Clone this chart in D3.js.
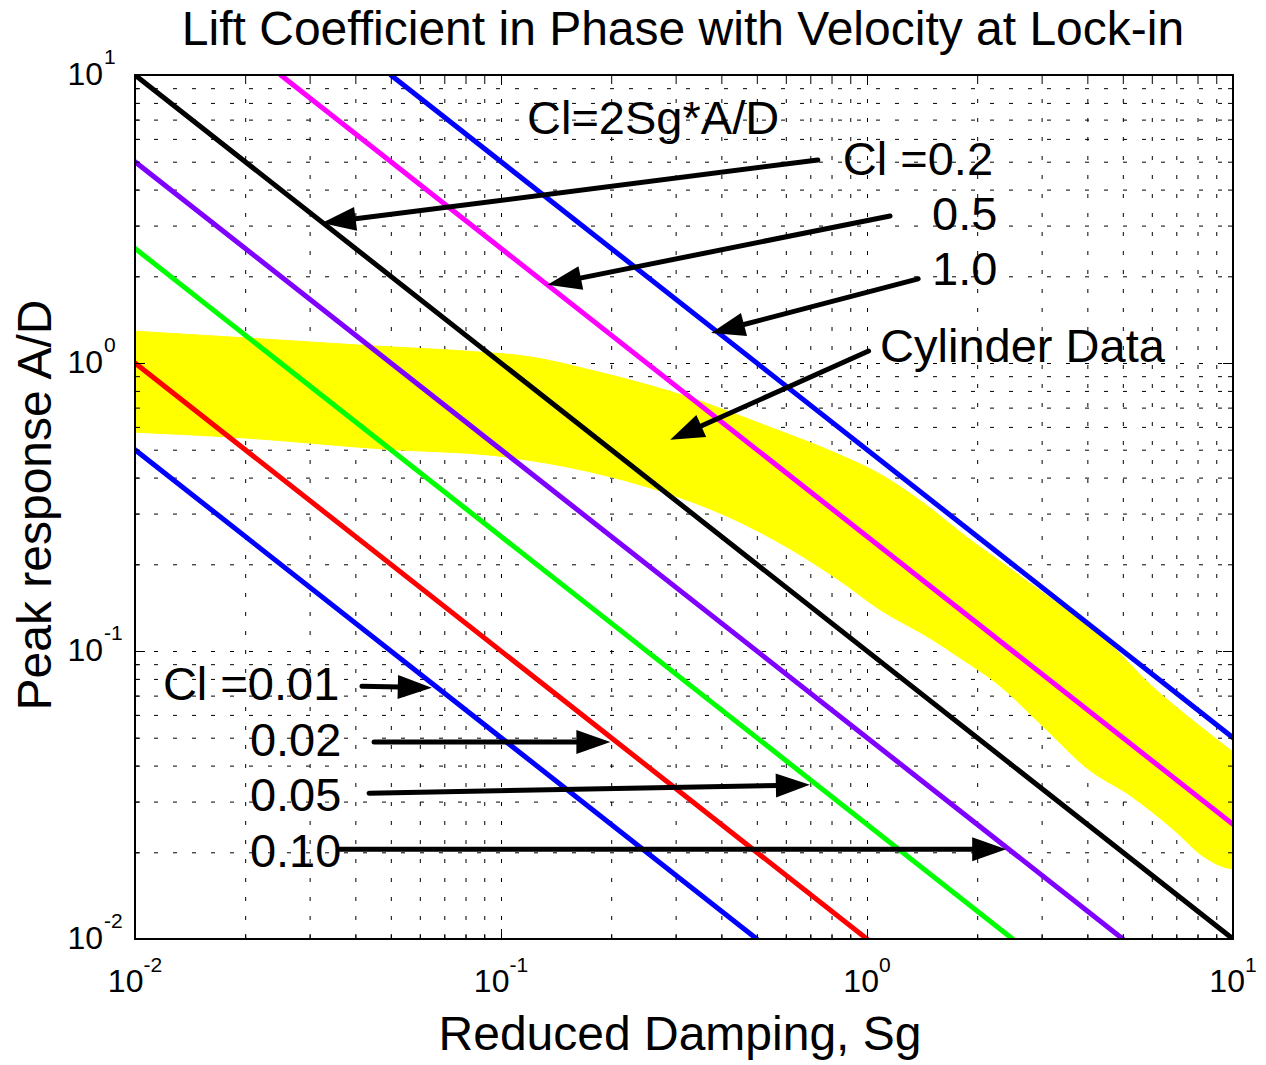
<!DOCTYPE html>
<html><head><meta charset="utf-8">
<script src="https://cdn.jsdelivr.net/npm/d3@7"></script>
<style>
body{margin:0;background:#fff}
svg{display:block}
text{font-family:"Liberation Sans",Arial,Helvetica,sans-serif;fill:#000}
</style>
</head><body>
<svg id="c" width="1266" height="1065"></svg>
<script>
// ---------------- data ----------------
const clLabels   = ["0.01","0.02","0.05","0.10","0.2","0.5","1.0"];
const lineStartSg = [0.01, 0.01, 0.01, 0.01, 0.01, 0.025, 0.05];
const lineStartAD = [0.5,  1,    2.5,  5,    10,   10,    10];
const lineEndSg   = [0.5,  1,    2.5,  5,    10,   10,    10];
const lineEndAD   = [0.01, 0.01, 0.01, 0.01, 0.01, 0.025, 0.05];
const lineColors  = ["#0000ff","#ff0000","#00ff00","#8000ff","#000000","#ff00ff","#0000ff"];

// Cylinder data band (yellow)
const bandUpperSg = [0.01,0.0228,0.0428,0.0887,0.114,0.185,0.316,0.54,0.81,1.09,1.41,1.90,2.41,3.01,4.47,6.0,7.87,10];
const bandUpperAD = [1.29,1.21,1.15,1.09,1.06,0.93,0.77,0.60,0.49,0.41,0.33,0.245,0.197,0.160,0.110,0.0755,0.0566,0.0446];
const bandLowerSg = [0.01,0.0184,0.0485,0.099,0.185,0.262,0.414,0.617,0.834,1.087,1.50,1.81,2.24,3.08,4.02,5.26,6.85,8.28,9.4,10];
const bandLowerAD = [0.575,0.553,0.502,0.475,0.412,0.365,0.294,0.226,0.177,0.139,0.110,0.094,0.078,0.0536,0.0389,0.0314,0.0241,0.0194,0.0178,0.0175];

const xTickExps = [-2,-1,0,1];
const yTickExps = [-2,-1,0,1];

// annotations: text anchor (Sg, A/D) and arrow from -> to, in data units
const noteTexts = ["Cl=2Sg*A/D","Cl =0.2","0.5","1.0","Cylinder Data","Cl =0.01","0.02","0.05","0.10"];
const noteSg    = [0.1178, 0.859, 1.506, 1.506, 1.086, 0.01192, 0.0206, 0.0206, 0.0206];
const noteAD    = [6.24,   4.50,  2.90,  1.87,  1.008, 0.0676,  0.0431, 0.0278, 0.0178];
const arrowFromSg = [0.734, 1.156, 1.38, 1.01, 0.0417, 0.045, 0.0436, 0.0363];
const arrowFromAD = [5.07,  3.24,  1.96, 1.10, 0.0755, 0.0483, 0.0321, 0.0205];
const arrowToSg   = [0.0324,0.134, 0.375,0.290,0.0647, 0.199, 0.698, 2.40];
const arrowToAD   = [3.06,  1.87,  1.27, 0.541,0.0745, 0.0483, 0.0343, 0.0205];

// ---------------- layout ----------------
const L = 135, R = 1233, T = 75, B = 939;
const svg = d3.select("#c");
const x = d3.scaleLog().domain([0.01, 10]).range([L, R]);
const y = d3.scaleLog().domain([0.01, 10]).range([B, T]);

// tick values
const majors = xTickExps.map(e => Math.pow(10, e));
const minors = [];
for (let e = -2; e < 1; e++) for (let m = 2; m <= 9; m++) minors.push(m * Math.pow(10, e));
const allTicks = majors.concat(minors);

svg.append("clipPath").attr("id","clip").append("rect")
  .attr("x",L).attr("y",T).attr("width",R-L).attr("height",B-T);

// grid
const grid = svg.append("g").attr("class","grid");
grid.append("g").attr("transform",`translate(0,${B})`)
  .call(d3.axisBottom(x).tickValues(allTicks.filter(v=>v>0.01 && v<10)).tickSize(-(B-T)).tickFormat(""));
grid.append("g").attr("transform",`translate(${L},0)`)
  .call(d3.axisLeft(y).tickValues(allTicks.filter(v=>v>0.01 && v<10)).tickSize(-(R-L)).tickFormat(""));
grid.selectAll(".domain").remove();
grid.selectAll("line").attr("stroke","#000").attr("stroke-width",1).attr("stroke-dasharray","4,15");

// band
const upper = bandUpperSg.map((s,i)=>[x(s), y(bandUpperAD[i])]);
const lower = bandLowerSg.map((s,i)=>[x(s), y(bandLowerAD[i])]);
const bandLine = d3.line().curve(d3.curveMonotoneX);
const bandPath = bandLine(upper) + "L" + bandLine(lower.slice().reverse()).slice(1) + "Z";
svg.append("path").attr("clip-path","url(#clip)")
  .attr("d", bandPath)
  .attr("fill","#ffff00").attr("stroke","#ffff00").attr("stroke-width",1);

// Cl lines
const lineGen = d3.line().x(d=>x(d[0])).y(d=>y(d[1]));
svg.append("g").attr("clip-path","url(#clip)").selectAll("path")
  .data(clLabels.map((c,i)=>({pts:[[lineStartSg[i],lineStartAD[i]],[lineEndSg[i],lineEndAD[i]]], color:lineColors[i]})))
  .join("path")
  .attr("d", d=>lineGen(d.pts))
  .attr("fill","none").attr("stroke", d=>d.color)
  .attr("stroke-width",5).attr("stroke-linecap","round");

// axis ticks (inner, all four sides)
function tickAxis(axisFn, scale, vals, size, tr){
  const g = svg.append("g").attr("transform",tr)
    .call(axisFn(scale).tickValues(vals).tickSize(size).tickFormat(""));
  g.select(".domain").remove();
  g.selectAll("line").attr("stroke","#000").attr("stroke-width",1);
}
tickAxis(d3.axisBottom, x, majors, -10, `translate(0,${B})`);
tickAxis(d3.axisBottom, x, minors, -5, `translate(0,${B})`);
tickAxis(d3.axisTop, x, majors, -10, `translate(0,${T})`);
tickAxis(d3.axisTop, x, minors, -5, `translate(0,${T})`);
tickAxis(d3.axisLeft, y, majors, -10, `translate(${L},0)`);
tickAxis(d3.axisLeft, y, minors, -5, `translate(${L},0)`);
tickAxis(d3.axisRight, y, majors, -10, `translate(${R},0)`);
tickAxis(d3.axisRight, y, minors, -5, `translate(${R},0)`);

// frame
svg.append("rect").attr("x",L).attr("y",T).attr("width",R-L).attr("height",B-T)
  .attr("fill","none").attr("stroke","#000").attr("stroke-width",2);

// x tick labels
xTickExps.forEach(e=>{
  const t = svg.append("text").attr("x", x(Math.pow(10,e))).attr("y", B+53)
    .attr("text-anchor","middle").style("font-size","32px");
  t.append("tspan").text("10");
  t.append("tspan").attr("dy",-20).style("font-size","21px").text(String(e));
});
// y tick labels
yTickExps.forEach(e=>{
  const yy = y(Math.pow(10,e)) + 10;
  svg.append("text").attr("x",103).attr("y",yy).attr("text-anchor","end")
    .style("font-size","32px").text("10");
  svg.append("text").attr("x",104).attr("y",yy-21).style("font-size","21px").text(String(e));
});

// titles
svg.append("text").attr("x",683).attr("y",45).attr("text-anchor","middle")
  .style("font-size","48px").text("Lift Coefficient in Phase with Velocity at Lock-in");
svg.append("text").attr("x",680).attr("y",1050).attr("text-anchor","middle")
  .style("font-size","48px").text("Reduced Damping, Sg");
svg.append("text").attr("transform","translate(51,505) rotate(-90)").attr("text-anchor","middle")
  .style("font-size","48px").text("Peak response A/D");

// annotation texts
noteTexts.forEach((s,i)=>{
  svg.append("text").attr("x",x(noteSg[i])).attr("y",y(noteAD[i]))
    .style("font-size","47px").text(s);
});

// arrows
arrowFromSg.forEach((s,i)=>{
  const x1 = x(s), y1 = y(arrowFromAD[i]);
  const x2 = x(arrowToSg[i]), y2 = y(arrowToAD[i]);
  const dx = x2-x1, dy = y2-y1, len = Math.hypot(dx,dy);
  const ux = dx/len, uy = dy/len;
  const hl = 34, hw = 12;
  const bx = x2-ux*hl, by = y2-uy*hl;
  svg.append("line").attr("x1",x1).attr("y1",y1).attr("x2",bx+ux*2).attr("y2",by+uy*2)
    .attr("stroke","#000").attr("stroke-width",5).attr("stroke-linecap","round");
  svg.append("path")
    .attr("d",`M${x2},${y2}L${bx-uy*hw},${by+ux*hw}L${bx+uy*hw},${by-ux*hw}Z`)
    .attr("fill","#000");
});
</script>
</body></html>
